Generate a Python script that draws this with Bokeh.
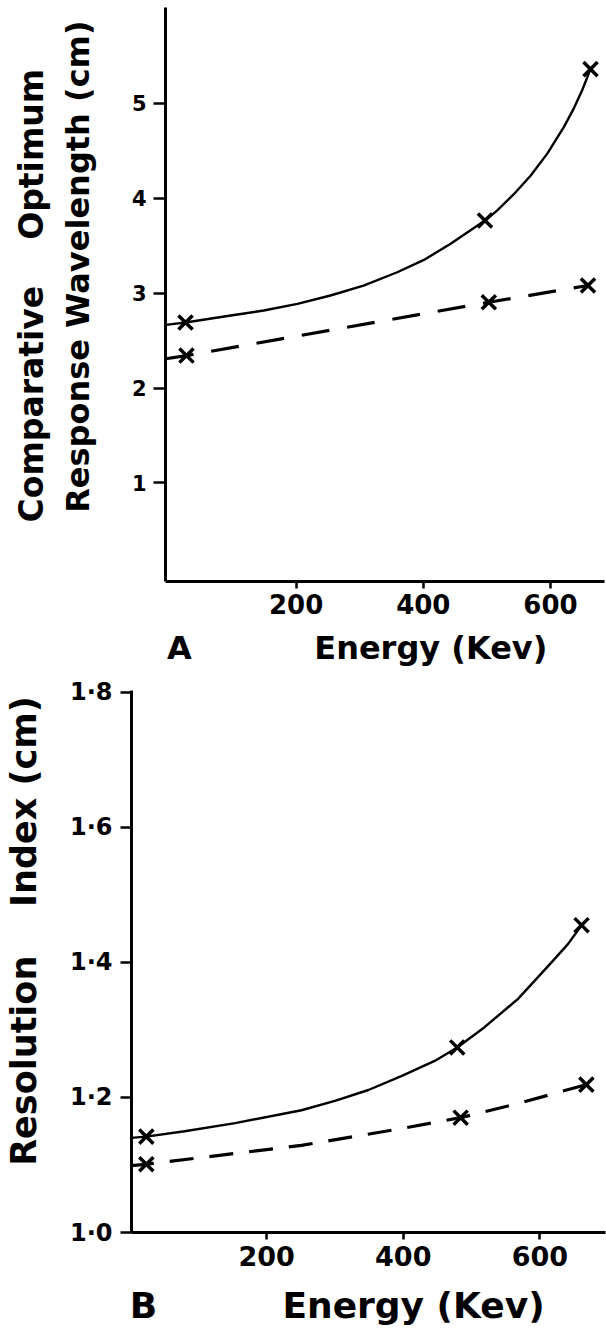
from bokeh.plotting import figure
from bokeh.models import Title, FixedTicker, CustomJSTickFormatter, Range1d
from bokeh.embed import file_html
from bokeh.resources import INLINE

FONT = "DejaVu Sans"
NB = "\u00a0"

# ---------------- Panel A data ----------------
a_x_ticks = [200, 400, 600]
a_y_ticks = [1, 2, 3, 4, 5]
a_solid_curve_x = [-5, 26, 97, 149, 202, 254, 306, 359, 401, 443, 497, 516, 542, 569, 595, 621, 637, 650, 663]
a_solid_curve_y = [2.666, 2.69, 2.764, 2.817, 2.887, 2.975, 3.08, 3.22, 3.35, 3.52, 3.765,
                   3.87, 4.04, 4.24, 4.47, 4.75, 4.95, 5.14, 5.36]
a_solid_pts_x = [26, 497, 663]
a_solid_pts_y = [2.69, 3.765, 5.36]
a_dash_curve_x = [-5, 27.5, 503, 659]
a_dash_curve_y = [2.308, 2.342, 2.904, 3.08]
a_dash_pts_x = [27.5, 503, 659]
a_dash_pts_y = [2.342, 2.904, 3.08]

# ---------------- Panel B data ----------------
b_x_ticks = [200, 400, 600]
b_y_ticks = [1.0, 1.2, 1.4, 1.6, 1.8]
b_solid_curve_x = [0, 24, 80, 154, 251, 300, 349, 398, 446, 479, 519, 568, 617, 641, 661]
b_solid_curve_y = [1.140, 1.142, 1.150, 1.162, 1.181, 1.195, 1.211, 1.232, 1.254, 1.274,
                   1.304, 1.346, 1.400, 1.427, 1.455]
b_solid_pts_x = [24, 479, 661]
b_solid_pts_y = [1.142, 1.274, 1.455]
b_dash_curve_x = [0, 24, 251, 398, 484, 568, 668]
b_dash_curve_y = [1.099, 1.101, 1.129, 1.154, 1.170, 1.191, 1.219]
b_dash_pts_x = [24, 484, 668]
b_dash_pts_y = [1.101, 1.170, 1.219]


def style_axes(p, xticks, yticks, xfs, yfs, ystand, ytick_out, xstand):
    p.xaxis.ticker = FixedTicker(ticks=xticks)
    p.yaxis.ticker = FixedTicker(ticks=yticks)
    for ax in (p.xaxis[0], p.yaxis[0]):
        ax.axis_line_width = 3
        ax.axis_line_color = "black"
        ax.major_tick_line_width = 2.5
        ax.major_tick_line_color = "black"
        ax.major_tick_in = 0
        ax.minor_tick_line_color = None
        ax.major_label_text_font = FONT
        ax.major_label_text_font_style = "bold"
        ax.major_label_text_color = "black"
        ax.axis_label_text_font = FONT
        ax.axis_label_text_font_style = "bold"
        ax.axis_label_text_color = "black"
    p.xaxis.major_tick_out = 7
    p.yaxis.major_tick_out = ytick_out
    p.xaxis.major_label_text_font_size = xfs
    p.yaxis.major_label_text_font_size = yfs
    p.xaxis.major_label_standoff = xstand
    p.yaxis.major_label_standoff = ystand
    p.xgrid.grid_line_color = None
    p.ygrid.grid_line_color = None
    p.outline_line_color = None
    p.background_fill_color = "white"
    p.border_fill_color = "white"


def draw_series(p, cx, cy, px, py, dash=None, width=2.4):
    if dash is None:
        p.line(cx, cy, line_color="black", line_width=width)
    else:
        p.line(cx, cy, line_color="black", line_width=width, line_dash=dash)
    p.scatter(px, py, marker="x", size=20, line_width=3.5, line_color="black")


# ---------------- Panel A figure ----------------
# canvas: page y 0..676 ; frame left 165, right 604, top 7, bottom 581
pA = figure(output_backend="svg", toolbar_location=None,
            frame_width=439, frame_height=574,
            min_border_left=165, min_border_right=2, min_border_top=7, min_border_bottom=95,
            x_range=Range1d(-5.5, 685), y_range=Range1d(-0.039, 6.01))
style_axes(pA, a_x_ticks, a_y_ticks, "26px", "21px", 7, 12, 5)
pA.yaxis.axis_label = NB * 5 + "Response Wavelength (cm)"
pA.yaxis.axis_label_text_font_size = "32px"
pA.yaxis.axis_label_standoff = 32
pA.xaxis.axis_label = "A" + NB * 11 + "Energy (Kev)" + NB * 5
pA.xaxis.axis_label_text_font_size = "32px"
pA.xaxis.axis_label_standoff = 12

draw_series(pA, a_solid_curve_x, a_solid_curve_y, a_solid_pts_x, a_solid_pts_y)
draw_series(pA, a_dash_curve_x, a_dash_curve_y, a_dash_pts_x, a_dash_pts_y, dash="28 18", width=3.2)

pA.add_layout(Title(text="Comparative" + NB * 4 + "Optimum", align="left", offset=59, standoff=10,
                    vertical_align="bottom", text_font=FONT, text_font_style="bold",
                    text_font_size="33px", text_color="black"), "left")

# ---------------- Panel B figure ----------------
# canvas: page y 676..1331 ; frame left 130, right 604, top 690, bottom 1232
pB = figure(output_backend="svg", toolbar_location=None,
            frame_width=474, frame_height=542,
            min_border_left=130, min_border_right=2, min_border_top=14, min_border_bottom=99,
            x_range=Range1d(2.3, 696), y_range=Range1d(1.0, 1.8025))
style_axes(pB, b_x_ticks, b_y_ticks, "27px", "24px", 8, 11, 6)
pB.yaxis.formatter = CustomJSTickFormatter(code="return tick.toFixed(1).replace('.', '\u00b7');")
pB.yaxis.axis_label = NB * 5 + "Resolution" + NB * 4 + "Index (cm)"
pB.yaxis.axis_label_text_font_size = "35px"
pB.yaxis.axis_label_standoff = 23
pB.xaxis.axis_label = "B" + NB * 10 + "Energy (Kev)" + NB * 5
pB.xaxis.axis_label_text_font_size = "36px"
pB.xaxis.axis_label_standoff = 16

draw_series(pB, b_solid_curve_x, b_solid_curve_y, b_solid_pts_x, b_solid_pts_y)
draw_series(pB, b_dash_curve_x, b_dash_curve_y, b_dash_pts_x, b_dash_pts_y, dash="24 16", width=3.2)

open("out.html", "w").write(file_html([pA, pB], INLINE))
